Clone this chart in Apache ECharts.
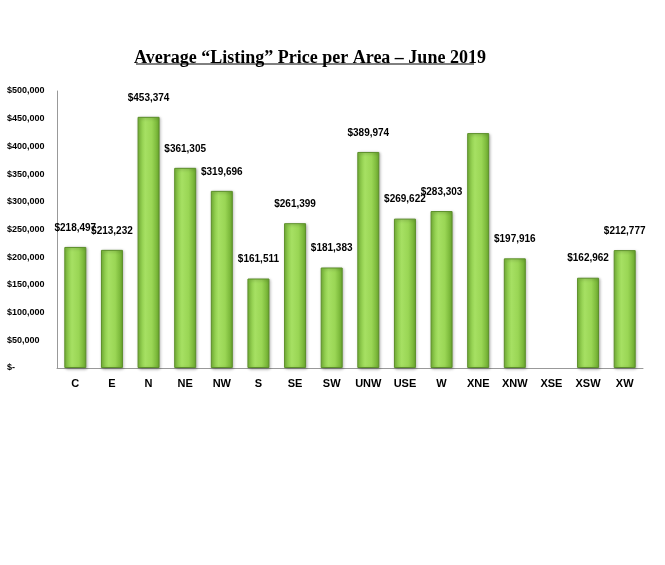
<!DOCTYPE html>
<html>
<head>
<meta charset="utf-8">
<script src="https://cdn.jsdelivr.net/npm/echarts@6/dist/echarts.min.js"></script>
<style>html,body{margin:0;padding:0;background:#fff;}#chart{width:665px;height:565px;}</style>
</head>
<body>
<div id="chart"></div>
<script>
var areas = ['C','E','N','NE','NW','S','SE','SW','UNW','USE','W','XNE','XNW','XSE','XSW','XW'];
var prices = [218497,213232,453374,361305,319696,161511,261399,181383,389974,269622,283303,424000,197916,0,162962,212777];
var showLabel = [true,true,true,true,true,true,true,true,true,true,true,false,true,true,true,true];

function money(v) {
    if (v === 0) return '$-';
    return '$' + v.toString().replace(/\B(?=(\d{3})+(?!\d))/g, ',');
}

var chart = echarts.init(document.getElementById('chart'));
var option = {
    animation: false,
    title: {
        text: 'Average \u201cListing\u201d Price per Area \u2013 June 2019',
        left: 305,
        textAlign: 'center',
        top: 44,
        textStyle: {
            fontFamily: 'Liberation Serif',
            fontSize: 18,
            fontWeight: 'bold',
            color: '#000'
        }
    },
    graphic: [{
        type: 'line',
        shape: {x1: 136, y1: 64, x2: 474, y2: 64},
        style: {stroke: '#000', lineWidth: 1}
    }],
    grid: {left: 57, right: 22, top: 91, bottom: 197},
    xAxis: {
        type: 'category',
        data: areas,
        axisLine: {lineStyle: {color: '#999'}},
        axisTick: {show: false},
        axisLabel: {color: '#000', fontWeight: 'bold', fontSize: 11, fontFamily: 'Liberation Sans', margin: 10}
    },
    yAxis: {
        type: 'value',
        min: 0,
        max: 500000,
        interval: 50000,
        splitLine: {show: false},
        axisLine: {show: true, lineStyle: {color: '#999'}},
        axisTick: {show: false},
        axisLabel: {
            color: '#000', fontWeight: 'bold', fontSize: 9, fontFamily: 'Liberation Sans',
            align: 'left', margin: 50,
            formatter: money
        }
    },
    series: [{
        type: 'bar',
        barWidth: 22,
        data: prices.map(function (v, i) {
            return {value: v, label: {show: showLabel[i]}, itemStyle: v === 0 ? {borderWidth: 0, opacity: 0} : {}};
        }),
        itemStyle: {
            color: new echarts.graphic.LinearGradient(0, 0, 1, 0, [
                {offset: 0, color: '#7cbd3a'},
                {offset: 0.35, color: '#a6e063'},
                {offset: 0.65, color: '#9ad655'},
                {offset: 1, color: '#6aa82c'}
            ]),
            borderColor: '#5c8f2a',
            borderWidth: 1,
            shadowColor: 'rgba(0,0,0,0.3)',
            shadowBlur: 3,
            shadowOffsetX: 1,
            shadowOffsetY: 1
        },
        label: {
            position: 'top',
            distance: 14,
            color: '#000',
            fontWeight: 'bold',
            fontSize: 10,
            fontFamily: 'Liberation Sans',
            formatter: function (p) { return money(p.value); }
        }
    }]
};
chart.setOption(option);
</script>
</body>
</html>
